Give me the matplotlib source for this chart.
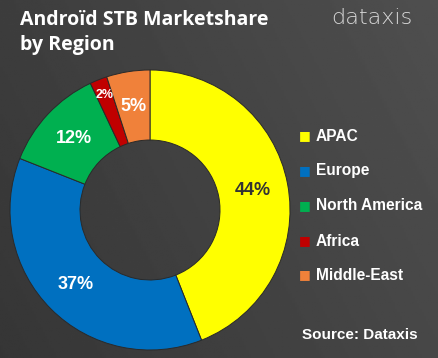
import numpy as np
import matplotlib.pyplot as plt

# data
regions = ['APAC', 'Europe', 'North America', 'Africa', 'Middle-East']
shares = [44, 37, 12, 2, 5]
colors = ['#FFFF00', '#0070C0', '#00B050', '#C00000', '#F0813A']
label_colors = ['#333333', 'white', 'white', 'white', 'white']
label_sizes = [13, 13, 13, 9, 13]
label_radius = [0.75, 0.75, 0.75, 0.88, 0.75]
title_lines = ['Androïd STB Marketshare', 'by Region']


def main():
    W, H = 438, 358
    fig = plt.figure(figsize=(W / 100, H / 100), dpi=100)

    # dark gradient background
    bg = fig.add_axes([0, 0, 1, 1])
    xx, yy = np.meshgrid(np.linspace(0, 1, 200), np.linspace(0, 1, 200))
    shade = 0.21 + 0.07 * xx + 0.03 * (1 - yy)
    bg.imshow(shade, cmap='gray', vmin=0, vmax=1, aspect='auto', extent=[0, 1, 0, 1])
    bg.set_axis_off()

    # donut
    ax = fig.add_axes([10 / W, 8 / H, 280 / W, 280 / H])
    wedges, texts, autotexts = ax.pie(
        shares, colors=colors, startangle=90, counterclock=False,
        autopct='%d%%', pctdistance=0.75,
        wedgeprops=dict(width=0.5, edgecolor='#2a2a2a', linewidth=0.7),
    )
    for w, t, c, s, r in zip(wedges, autotexts, label_colors, label_sizes, label_radius):
        t.set_color(c)
        t.set_fontsize(s)
        t.set_fontweight('bold')
        t.set_family('Liberation Sans')
        mid = np.deg2rad((w.theta1 + w.theta2) / 2)
        t.set_position((r * np.cos(mid), r * np.sin(mid)))
    ax.set_xlim(-1, 1)
    ax.set_ylim(-1, 1)
    ax.set_aspect('equal')

    # title + logo (baselines at 25px and 50px from the top)
    for line, base in zip(title_lines, [25, 50]):
        fig.text(20 / W, 1 - base / H, line, color='white', fontsize=14,
                 fontweight='bold', family='Open Sans', va='baseline', ha='left')
    fig.text(372 / W, 1 - 18 / H, 'dataxis', color='#d8d8d8', fontsize=16,
             family='DejaVu Sans', fontweight='light', ha='center', va='center')

    # legend
    leg_y = [136, 171, 206, 241, 275]
    for name, col, y in zip(regions, colors, leg_y):
        fig.text(305 / W, 1 - y / H, '■', color=col, fontsize=9, ha='center', va='center',
                 family='DejaVu Sans')
        fig.text(316 / W, 1 - y / H, name, color='white', fontsize=11.2, fontweight='bold',
                 family='Liberation Sans', ha='left', va='center')

    fig.text(418 / W, 1 - 335 / H, 'Source: Dataxis', color='white', fontsize=11,
             fontweight='bold', family='Liberation Sans', ha='right', va='center')

    fig.savefig('out.png', dpi=100)


if __name__ == '__main__':
    main()
